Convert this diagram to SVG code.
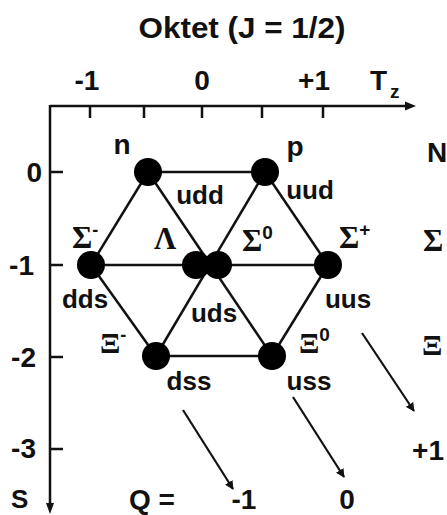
<svg xmlns="http://www.w3.org/2000/svg" width="447" height="515" viewBox="0 0 447 515">
<style>
.t{font-family:"Liberation Sans",Arial,sans-serif;font-weight:bold;fill:#111;}
.g{font-family:"Liberation Serif","Times New Roman",serif;font-weight:bold;fill:#111;}
.ax{stroke:#111;stroke-width:2.5;fill:none;}
.ed{stroke:#111;stroke-width:2.5;}
.ar{stroke:#111;stroke-width:2.2;}
.nd{fill:#000;}
</style>
<defs>
<marker id="ah" viewBox="0 0 10 10" refX="9" refY="5" markerWidth="4" markerHeight="4" orient="auto" markerUnits="strokeWidth">
<path d="M0,0 L10,5 L0,10 z" fill="#111"/>
</marker>
</defs>
<rect width="447" height="515" fill="#fff"/>
<text class="t" x="242" y="38" font-size="29" text-anchor="middle" textLength="207" lengthAdjust="spacingAndGlyphs">Oktet (J = 1/2)</text>
<g id="axes">
<line class="ax" x1="50" y1="106" x2="408" y2="106"/>
<path d="M416,106 L405,101.5 L405,110.5 z" fill="#111"/>
<line class="ax" x1="50" y1="105" x2="50" y2="506"/>
<path d="M50,514 L46,503 L54,503 z" fill="#111"/>
<line class="ax" x1="90" y1="106" x2="90" y2="118"/>
<line class="ax" x1="144" y1="106" x2="144" y2="118"/>
<line class="ax" x1="202" y1="106" x2="202" y2="118"/>
<line class="ax" x1="262" y1="106" x2="262" y2="118"/>
<line class="ax" x1="323" y1="106" x2="323" y2="118"/>
<line class="ax" x1="50" y1="172" x2="63" y2="172"/>
<line class="ax" x1="50" y1="265" x2="63" y2="265"/>
<line class="ax" x1="50" y1="357" x2="63" y2="357"/>
<line class="ax" x1="50" y1="449" x2="63" y2="449"/>
<text class="t" x="87" y="90" font-size="28" text-anchor="middle">-1</text>
<text class="t" x="202" y="90" font-size="28" text-anchor="middle">0</text>
<text class="t" x="314" y="90" font-size="28" text-anchor="middle">+1</text>
<text class="t" x="370" y="90" font-size="28">T</text>
<text class="t" x="390" y="98" font-size="19">z</text>
<text class="t" x="42" y="182" font-size="28" text-anchor="end">0</text>
<text class="t" x="34" y="275" font-size="28" text-anchor="end">-1</text>
<text class="t" x="36" y="367" font-size="28" text-anchor="end">-2</text>
<text class="t" x="36" y="458" font-size="28" text-anchor="end">-3</text>
<text class="t" x="11" y="508" font-size="26">S</text>
</g>
<g id="connectors">
<line class="ed" x1="148" y1="172" x2="265" y2="172"/>
<line class="ed" x1="91" y1="265" x2="328" y2="265"/>
<line class="ed" x1="156" y1="356" x2="272" y2="356"/>
<line class="ed" x1="148" y1="172" x2="91" y2="265"/>
<line class="ed" x1="265" y1="172" x2="328" y2="265"/>
<line class="ed" x1="91" y1="265" x2="156" y2="356"/>
<line class="ed" x1="328" y1="265" x2="272" y2="356"/>
<line class="ed" x1="148" y1="172" x2="272" y2="356"/>
<line class="ed" x1="265" y1="172" x2="156" y2="356"/>
<line class="ar" x1="183" y1="410" x2="233" y2="489" marker-end="url(#ah)"/>
<line class="ar" x1="293" y1="397" x2="344" y2="477" marker-end="url(#ah)"/>
<line class="ar" x1="362" y1="333" x2="414" y2="411" marker-end="url(#ah)"/>
</g>
<g id="n"><circle class="nd" cx="148" cy="172" r="14"/><text class="t" x="122" y="154" font-size="28" text-anchor="middle">n</text><text class="t" x="200" y="204" font-size="26" text-anchor="middle">udd</text></g>
<g id="p"><circle class="nd" cx="265" cy="172" r="14"/><text class="t" x="295" y="156" font-size="28" text-anchor="middle">p</text><text class="t" x="310" y="199" font-size="26" text-anchor="middle">uud</text></g>
<g id="sigma-minus"><circle class="nd" cx="91" cy="265" r="14"/><text class="g" x="72" y="248" font-size="31">Σ<tspan font-size="18" dy="-12" class="t">-</tspan></text><text class="t" x="85" y="308" font-size="26" text-anchor="middle">dds</text></g>
<g id="lambda"><circle class="nd" cx="196" cy="265" r="14"/><text class="g" x="165" y="249" font-size="31" text-anchor="middle">Λ</text><text class="t" x="214" y="322" font-size="26" text-anchor="middle">uds</text></g>
<g id="sigma-zero"><circle class="nd" cx="218" cy="265" r="14"/><text class="g" x="242" y="251" font-size="31">Σ<tspan font-size="19" dy="-12" class="t">0</tspan></text></g>
<g id="sigma-plus"><circle class="nd" cx="328" cy="265" r="14"/><text class="g" x="339" y="248" font-size="31">Σ<tspan font-size="19" dy="-12" class="t">+</tspan></text><text class="t" x="348" y="308" font-size="26" text-anchor="middle">uus</text></g>
<g id="xi-minus"><circle class="nd" cx="156" cy="356" r="14"/><text class="g" x="100" y="353" font-size="30">Ξ<tspan font-size="18" dy="-12" class="t">-</tspan></text><text class="t" x="189" y="390" font-size="26" text-anchor="middle">dss</text></g>
<g id="xi-zero"><circle class="nd" cx="272" cy="356" r="14"/><text class="g" x="299" y="353" font-size="30">Ξ<tspan font-size="19" dy="-12" class="t">0</tspan></text><text class="t" x="309" y="390" font-size="26" text-anchor="middle">uss</text></g>
<g id="right-labels">
<text class="t" x="427" y="162" font-size="28">N</text>
<text class="g" x="423" y="251" font-size="31">Σ</text>
<text class="g" x="422" y="355" font-size="30">Ξ</text>
<text class="t" x="428" y="460" font-size="28" text-anchor="middle">+1</text>
</g>
<g id="charge-labels">
<text class="t" x="152" y="509" font-size="28" text-anchor="middle">Q =</text>
<text class="t" x="244" y="509" font-size="28" text-anchor="middle">-1</text>
<text class="t" x="347" y="509" font-size="28" text-anchor="middle">0</text>
</g>
</svg>
